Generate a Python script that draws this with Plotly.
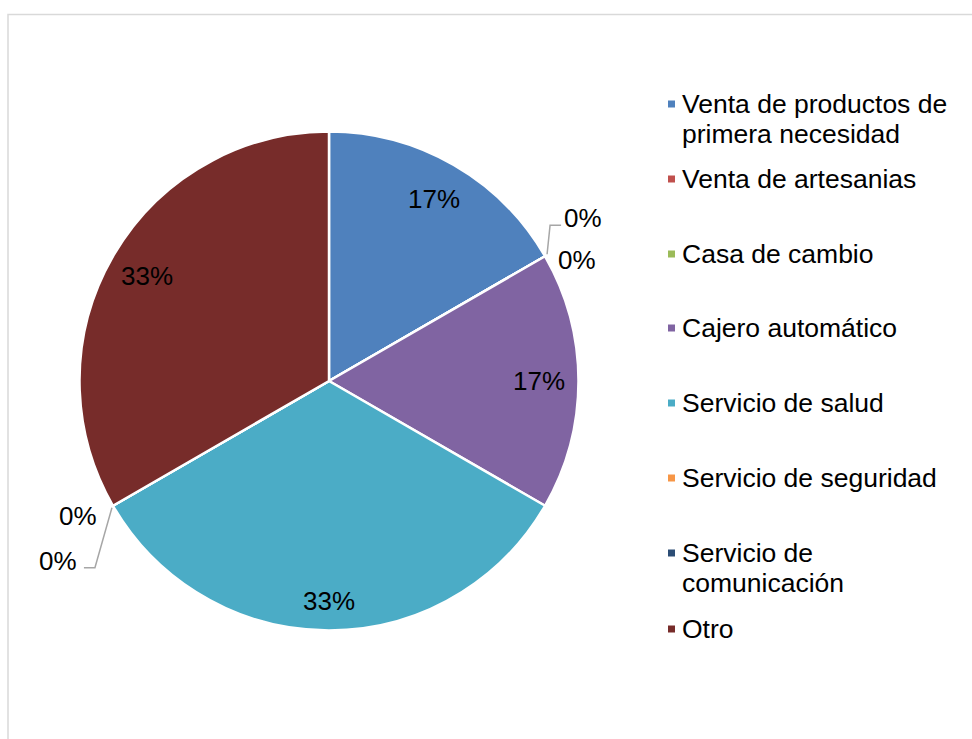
import math
import plotly.graph_objects as go

# ---- data ----
categories = [
    "Venta de productos de primera necesidad",
    "Venta de artesanias",
    "Casa de cambio",
    "Cajero automático",
    "Servicio de salud",
    "Servicio de seguridad",
    "Servicio de comunicación",
    "Otro",
]
legend_lines = [
    ["Venta de productos de", "primera necesidad"],
    ["Venta de artesanias"],
    ["Casa de cambio"],
    ["Cajero automático"],
    ["Servicio de salud"],
    ["Servicio de seguridad"],
    ["Servicio de", "comunicación"],
    ["Otro"],
]
values = [1, 0, 0, 1, 2, 0, 0, 2]
colors = ["#4F81BD", "#C0504D", "#9BBB59", "#8064A2",
          "#4BACC6", "#F79646", "#2C4D75", "#772C2A"]

# ---- layout constants (pixels) ----
W, H = 972, 739
CX, CY, R = 329, 381, 249.5
FONT = "Liberation Sans, Arial, sans-serif"
FS = 26
FS_LEG = 26.5
legend_y = [104, 179, 254, 328, 403, 478, 553, 629]
LINE_STEP = 30
label_r = [0.84, 0.84, 0.84, 0.84, 0.88, 0.84, 0.84, 0.84]


def px(x):
    return x / W


def py(y):
    return 1 - y / H


def label(x, y, text, size=FS, xanchor="center"):
    return dict(x=px(x), y=py(y), xref="paper", yref="paper",
                xanchor=xanchor, yanchor="middle", align="left",
                text=text, showarrow=False,
                font=dict(family=FONT, size=size, color="black"))


total = sum(values)
fig = go.Figure()
fig.add_trace(go.Pie(
    labels=categories, values=values, sort=False, direction="clockwise",
    rotation=0, textinfo="none", hoverinfo="label+percent",
    marker=dict(colors=colors, line=dict(color="white", width=2.5)),
    domain=dict(x=[px(CX - R), px(CX + R)], y=[py(CY + R), py(CY - R)]),
    showlegend=False,
))

annotations = []
shapes = []

# percentage labels
cum = 0
zero_groups = {}
for i, v in enumerate(values):
    start = cum
    cum += v
    pct = round(100 * v / total)
    if v > 0:
        mid = (start + cum) / 2 / total * 2 * math.pi
        rf = label_r[i]
        x = CX + rf * R * math.sin(mid)
        y = CY - rf * R * math.cos(mid)
        annotations.append(label(x, y, f"{pct}%"))
    else:
        ang = start / total * 2 * math.pi
        zero_groups.setdefault(round(ang, 6), []).append((i, pct))

for ang, items in zero_groups.items():
    ex = CX + R * math.sin(ang)
    ey = CY - R * math.cos(ang)
    right = math.sin(ang) >= 0
    if right:
        lx0, ly0 = ex + 2, ey - 2
        lx1, ly1 = ex + 5, ey - 31
        lx2 = ex + 16
        pos = [(ex + 38, ey - 38), (ex + 32, ey + 4)]
    else:
        lx0, ly0 = ex - 1, ey + 2
        lx1, ly1 = ex - 18, ey + 62
        lx2 = ex - 29
        pos = [(ex - 35, ey + 10), (ex - 55, ey + 55)]
    shapes.append(dict(type="path", xref="paper", yref="paper",
                       path=f"M {px(lx0)} {py(ly0)} L {px(lx1)} {py(ly1)} L {px(lx2)} {py(ly1)}",
                       line=dict(color="#A6A6A6", width=1.5)))
    for (i, pct), (x, y) in zip(items, pos):
        annotations.append(label(x, y, f"{pct}%"))

# legend drawn as text + coloured squares
for lines, col, ly in zip(legend_lines, colors, legend_y):
    shapes.append(dict(type="rect", xref="paper", yref="paper",
                       x0=px(668), x1=px(675), y0=py(ly + 3.5), y1=py(ly - 3.5),
                       fillcolor=col, line=dict(width=0)))
    for k, t in enumerate(lines):
        annotations.append(label(680, ly + k * LINE_STEP, t, size=FS_LEG, xanchor="left"))

# chart frame
shapes.append(dict(type="rect", xref="paper", yref="paper",
                   x0=px(8), x1=px(990), y0=py(760), y1=py(14.5),
                   line=dict(color="#D9D9D9", width=1.5), fillcolor="rgba(0,0,0,0)"))

fig.update_layout(
    width=W, height=H, margin=dict(l=0, r=0, t=0, b=0),
    paper_bgcolor="white", plot_bgcolor="white",
    annotations=annotations, shapes=shapes,
    font=dict(family=FONT, size=FS, color="black"),
)
fig.write_html("out.html", config={"displayModeBar": False},
               post_script="document.body.style.margin='0';document.body.style.overflow='hidden';")
